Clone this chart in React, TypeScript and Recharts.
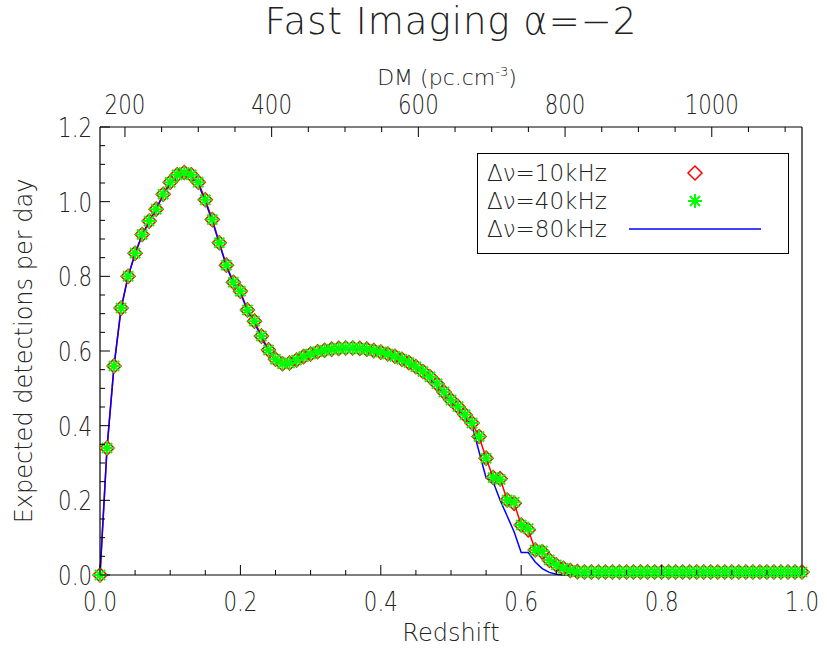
import { ComposedChart, Legend, Line, XAxis, YAxis } from "recharts";

// redshift grid of the simulation
const redshift = [
  0, 0.01, 0.02, 0.03, 0.04, 0.05, 0.06, 0.07, 0.08, 0.09,
  0.1, 0.11, 0.12, 0.13, 0.14, 0.15, 0.16, 0.17, 0.18, 0.19,
  0.2, 0.21, 0.22, 0.23, 0.24, 0.25, 0.26, 0.27, 0.28, 0.29,
  0.3, 0.31, 0.32, 0.33, 0.34, 0.35, 0.36, 0.37, 0.38, 0.39,
  0.4, 0.41, 0.42, 0.43, 0.44, 0.45, 0.46, 0.47, 0.48, 0.49,
  0.5, 0.51, 0.52, 0.53, 0.54, 0.55, 0.56, 0.57, 0.58, 0.59,
  0.6, 0.61, 0.62, 0.63, 0.64, 0.65, 0.66, 0.67, 0.68, 0.69,
  0.7, 0.71, 0.72, 0.73, 0.74, 0.75, 0.76, 0.77, 0.78, 0.79,
  0.8, 0.81, 0.82, 0.83, 0.84, 0.85, 0.86, 0.87, 0.88, 0.89,
  0.9, 0.91, 0.92, 0.93, 0.94, 0.95, 0.96, 0.97, 0.98, 0.99, 1.0,
];

// expected detections per day, channel width 10 kHz
const det10kHz = [
  0, 0.34, 0.56, 0.715, 0.8, 0.862, 0.912, 0.948, 0.98, 1.02,
  1.052, 1.072, 1.078, 1.072, 1.052, 1.005, 0.952, 0.89, 0.83, 0.784,
  0.76, 0.71, 0.68, 0.64, 0.603, 0.578, 0.566, 0.568, 0.576, 0.585,
  0.592, 0.598, 0.602, 0.605, 0.607, 0.608, 0.608, 0.607, 0.605, 0.601,
  0.597, 0.592, 0.586, 0.578, 0.569, 0.558, 0.545, 0.531, 0.512, 0.49,
  0.469, 0.451, 0.429, 0.407, 0.371, 0.313, 0.261, 0.258, 0.201, 0.192,
  0.134, 0.121, 0.067, 0.062, 0.04, 0.027, 0.018, 0.012, 0.009, 0.008,
  0.008, 0.008, 0.008, 0.008, 0.008, 0.008, 0.008, 0.008, 0.008, 0.008,
  0.008, 0.008, 0.008, 0.008, 0.008, 0.008, 0.008, 0.008, 0.008, 0.008,
  0.008, 0.008, 0.008, 0.008, 0.008, 0.008, 0.008, 0.008, 0.008, 0.008, 0.008,
];

// 40 kHz
const det40kHz = [
  0, 0.34, 0.56, 0.715, 0.8, 0.862, 0.912, 0.948, 0.98, 1.02,
  1.052, 1.072, 1.078, 1.072, 1.052, 1.005, 0.952, 0.89, 0.83, 0.784,
  0.76, 0.71, 0.68, 0.64, 0.603, 0.578, 0.566, 0.568, 0.576, 0.585,
  0.592, 0.598, 0.602, 0.605, 0.607, 0.608, 0.608, 0.607, 0.605, 0.601,
  0.597, 0.592, 0.586, 0.578, 0.569, 0.558, 0.545, 0.531, 0.512, 0.49,
  0.469, 0.451, 0.429, 0.407, 0.371, 0.313, 0.261, 0.256, 0.201, 0.195,
  0.134, 0.124, 0.067, 0.064, 0.04, 0.027, 0.018, 0.012, 0.009, 0.008,
  0.008, 0.008, 0.008, 0.008, 0.008, 0.008, 0.008, 0.008, 0.008, 0.008,
  0.008, 0.008, 0.008, 0.008, 0.008, 0.008, 0.008, 0.008, 0.008, 0.008,
  0.008, 0.008, 0.008, 0.008, 0.008, 0.008, 0.008, 0.008, 0.008, 0.008, 0.008,
];

// 80 kHz
const det80kHz = [
  0, 0.34, 0.56, 0.712, 0.8, 0.86, 0.91, 0.946, 0.98, 1.018,
  1.05, 1.068, 1.074, 1.068, 1.048, 1.0, 0.948, 0.888, 0.828, 0.782,
  0.756, 0.708, 0.676, 0.636, 0.6, 0.575, 0.564, 0.566, 0.574, 0.583,
  0.59, 0.596, 0.6, 0.603, 0.605, 0.606, 0.606, 0.605, 0.602, 0.598,
  0.594, 0.589, 0.582, 0.574, 0.565, 0.554, 0.541, 0.526, 0.507, 0.486,
  0.465, 0.446, 0.424, 0.4, 0.33, 0.26, 0.25, 0.2, 0.158, 0.115,
  0.06, 0.06, 0.035, 0.017, 0.007, 0.002, 0, 0, 0, 0,
  0, 0, 0, 0, 0, 0, 0, 0, 0, 0,
  0, 0, 0, 0, 0, 0, 0, 0, 0, 0,
  0, 0, 0, 0, 0, 0, 0, 0, 0, 0, 0,
];

const zTicks = [
  0, 0.05, 0.1, 0.15, 0.2, 0.25, 0.3, 0.35, 0.4, 0.45, 0.5,
  0.55, 0.6, 0.65, 0.7, 0.75, 0.8, 0.85, 0.9, 0.95, 1.0,
];
const zLabels = [0, 0.2, 0.4, 0.6, 0.8, 1.0];

const yTicks = [
  0, 0.05, 0.1, 0.15, 0.2, 0.25, 0.3, 0.35, 0.4, 0.45, 0.5, 0.55, 0.6,
  0.65, 0.7, 0.75, 0.8, 0.85, 0.9, 0.95, 1.0, 1.05, 1.1, 1.15, 1.2,
];
const yLabels = [0, 0.2, 0.4, 0.6, 0.8, 1.0, 1.2];

// top axis: DM, drawn over the same redshift range (DM 166 at z=0, 1123 at z=1)
const dmTicks = [
  200, 250, 300, 350, 400, 450, 500, 550, 600, 650,
  700, 750, 800, 850, 900, 950, 1000, 1050, 1100,
];
const dmLabels = [200, 400, 600, 800, 1000];
const dmRange = [166, 1123];
const dmToZ = (dm: number) => (dm - dmRange[0]) / (dmRange[1] - dmRange[0]);
const zToDm = (z: number) => dmRange[0] + z * (dmRange[1] - dmRange[0]);

const series = [
  { key: "d10", name: "Δν=10kHz", color: "#ff0000", mark: "diamond" },
  { key: "d40", name: "Δν=40kHz", color: "#00ff00", mark: "star" },
  { key: "d80", name: "Δν=80kHz", color: "#0000ff", mark: "line" },
];

const data = redshift.map((z, i) => ({
  z,
  d10: det10kHz[i],
  d40: det40kHz[i],
  d80: det80kHz[i],
}));

const FONT = "'DejaVu Sans', sans-serif";
const INK = "#222";
const MAJOR = 10;
const MINOR = 5;

const inList = (v: number, list: number[]) =>
  list.some((l) => Math.abs(l - v) < 1e-6);

const Num = ({ x, y, anchor, text }: any) => (
  <text
    transform={`translate(${x},${y}) scale(0.82,1)`}
    textAnchor={anchor}
    fontFamily={FONT}
    fontWeight={200}
    fontSize={26}
    fill={INK}
  >
    {text}
  </text>
);

const BottomTick = ({ x, y, payload }: any) => {
  const major = inList(payload.value, zLabels);
  return (
    <g>
      <line x1={x} x2={x} y1={y} y2={y - (major ? MAJOR : MINOR)} stroke="#000" />
      {major && <Num x={x} y={y + 36} anchor="middle" text={payload.value.toFixed(1)} />}
    </g>
  );
};

const TopTick = ({ x, y, payload }: any) => {
  const dm = Math.round(zToDm(payload.value));
  const major = inList(dm, dmLabels);
  return (
    <g>
      <line x1={x} x2={x} y1={y} y2={y + (major ? MAJOR : MINOR)} stroke="#000" />
      {major && <Num x={x} y={y - 13} anchor="middle" text={String(dm)} />}
    </g>
  );
};

const LeftTick = ({ x, y, payload }: any) => {
  const major = inList(payload.value, yLabels);
  return (
    <g>
      <line x1={x} x2={x + (major ? MAJOR : MINOR)} y1={y} y2={y} stroke="#000" />
      {major && <Num x={x - 8} y={y + 10} anchor="end" text={payload.value.toFixed(1)} />}
    </g>
  );
};

const RightTick = ({ x, y, payload }: any) => {
  const major = inList(payload.value, yLabels);
  return <line x1={x} x2={x - (major ? MAJOR : MINOR)} y1={y} y2={y} stroke="#000" />;
};

const Diamond = ({ cx, cy, r = 7, color = "#ff0000" }: any) => {
  if (cx == null || cy == null) return null;
  return (
    <path
      d={`M${cx},${cy - r} L${cx + r},${cy} L${cx},${cy + r} L${cx - r},${cy} Z`}
      fill="none"
      stroke={color}
      strokeWidth={1.5}
    />
  );
};

const Star = ({ cx, cy, r = 7, color = "#00ff00" }: any) => {
  if (cx == null || cy == null) return null;
  const d = r * 0.72;
  return (
    <path
      d={`M${cx - r},${cy} H${cx + r} M${cx},${cy - r} V${cy + r} M${cx - d},${cy - d} L${cx + d},${cy + d} M${cx - d},${cy + d} L${cx + d},${cy - d}`}
      stroke={color}
      strokeWidth={2}
    />
  );
};

const LegendBox = () => (
  <svg width={312} height={101}>
    <rect x={0.5} y={0.5} width={311} height={100} fill="#fff" stroke="#000" />
    {series.map((s, i) => {
      const cy = 20 + i * 28;
      return (
        <g key={s.key}>
          <text x={10} y={cy + 8} fontFamily={FONT} fontWeight={200} fontSize={23} fill={INK}>
            {s.name}
          </text>
          {s.mark === "diamond" && <Diamond cx={218} cy={cy} color={s.color} />}
          {s.mark === "star" && <Star cx={218} cy={cy} color={s.color} />}
          {s.mark === "line" && (
            <line x1={152} x2={284} y1={cy} y2={cy} stroke={s.color} strokeWidth={1.5} />
          )}
        </g>
      );
    })}
  </svg>
);

export default function App() {
  return (
    <div style={{ position: "absolute", left: 0, top: 0, width: 827, height: 651, background: "#fff" }}>
      <div
        style={{
          position: "absolute",
          left: 0,
          top: 0,
          width: 827,
          boxSizing: "border-box",
          paddingLeft: 75,
          textAlign: "center",
          fontFamily: FONT,
          fontWeight: 200,
          fontSize: 37,
          lineHeight: "44px",
          color: INK,
          letterSpacing: 1,
          whiteSpace: "nowrap",
        }}
      >
        Fast Imaging α=−2
      </div>
      <ComposedChart
        width={827}
        height={651}
        data={data}
        margin={{ top: 0, right: 0, bottom: 0, left: 0 }}
      >
        <XAxis
          xAxisId="z"
          dataKey="z"
          type="number"
          domain={[0, 1]}
          ticks={zTicks}
          interval={0}
          height={76}
          tickSize={0}
          tickMargin={0}
          tick={<BottomTick />}
          axisLine={{ stroke: "#000", strokeWidth: 1.2 }}
          label={{
            content: ({ viewBox }: any) => (
              <text
                x={viewBox.x + viewBox.width / 2}
                y={viewBox.y + 66}
                textAnchor="middle"
                fontFamily={FONT}
                fontWeight={200}
                fontSize={24}
                fill={INK}
              >
                Redshift
              </text>
            ),
          }}
        />
        <XAxis
          xAxisId="dm"
          dataKey="z"
          orientation="top"
          type="number"
          domain={[0, 1]}
          ticks={dmTicks.map(dmToZ)}
          interval={0}
          height={127}
          tickSize={0}
          tickMargin={0}
          tick={<TopTick />}
          axisLine={{ stroke: "#000", strokeWidth: 1.2 }}
          label={{
            content: ({ viewBox }: any) => (
              <text
                x={viewBox.x + viewBox.width / 2 - 4}
                y={viewBox.y + 85}
                textAnchor="middle"
                fontFamily={FONT}
                fontWeight={200}
                fontSize={22}
                fill={INK}
              >
                DM (pc.cm
                <tspan dy={-9} fontSize={13}>
                  -3
                </tspan>
                <tspan dy={9}>)</tspan>
              </text>
            ),
          }}
        />
        <YAxis
          yAxisId="l"
          type="number"
          domain={[0, 1.2]}
          ticks={yTicks}
          interval={0}
          width={100}
          tickSize={0}
          tickMargin={0}
          tick={<LeftTick />}
          axisLine={{ stroke: "#000", strokeWidth: 1.2 }}
          label={{
            content: ({ viewBox }: any) => (
              <text
                transform={`translate(${viewBox.x + 32},${viewBox.y + viewBox.height / 2}) rotate(-90)`}
                textAnchor="middle"
                fontFamily={FONT}
                fontWeight={200}
                fontSize={24}
                fill={INK}
              >
                Expected detections per day
              </text>
            ),
          }}
        />
        <YAxis
          yAxisId="r"
          orientation="right"
          type="number"
          domain={[0, 1.2]}
          ticks={yTicks}
          interval={0}
          width={25}
          tickSize={0}
          tickMargin={0}
          tick={<RightTick />}
          axisLine={{ stroke: "#000", strokeWidth: 1.2 }}
        />
        <Legend
          layout="horizontal"
          verticalAlign="middle"
          align="center"
          wrapperStyle={{ position: "absolute", left: 477, top: 153, width: 312, height: 101 }}
          content={() => <LegendBox />}
        />
        <Line
          xAxisId="z"
          yAxisId="l"
          dataKey="d10"
          name={series[0].name}
          type="linear"
          stroke="#ff0000"
          strokeWidth={1.5}
          dot={(p: any) => <Diamond key={`d10-${p.index}`} cx={p.cx} cy={p.cy} color="#ff0000" />}
          activeDot={false}
          isAnimationActive={false}
        />
        <Line
          xAxisId="z"
          yAxisId="l"
          dataKey="d40"
          name={series[1].name}
          type="linear"
          stroke="none"
          dot={(p: any) => <Star key={`d40-${p.index}`} cx={p.cx} cy={p.cy} color="#00ff00" />}
          activeDot={false}
          isAnimationActive={false}
        />
        <Line
          xAxisId="z"
          yAxisId="l"
          dataKey="d80"
          name={series[2].name}
          type="linear"
          stroke="#0000ff"
          strokeWidth={1.5}
          dot={false}
          activeDot={false}
          isAnimationActive={false}
        />
      </ComposedChart>
    </div>
  );
}
